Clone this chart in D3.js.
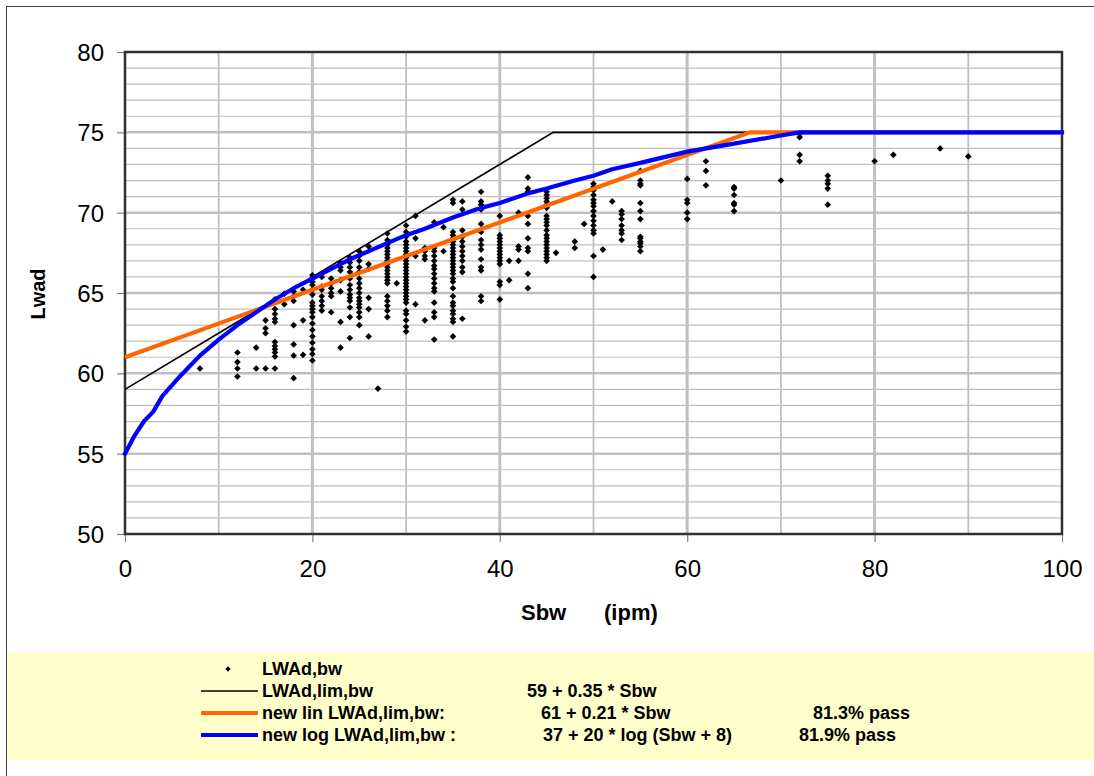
<!DOCTYPE html>
<html>
<head>
<meta charset="utf-8">
<script src="https://cdn.jsdelivr.net/npm/d3@7"></script>
<style>
  body { margin: 0; background: #fff; }
  svg { display: block; font-family: "Liberation Sans", Arial, sans-serif; }
</style>
</head>
<body>
<div id="chart"></div>
<script>
// ---- data ----
// measured Sbw values, one column of LWAd values per Sbw
var sbwCols = [8, 12, 14, 15, 16, 17, 18, 19, 20, 21, 22, 23, 24, 25, 26, 27, 28, 29, 30, 31,
  32, 33, 34, 35, 36, 38, 40, 41, 42, 43, 45, 46, 48, 49, 50, 51, 52, 53, 55, 60, 62, 65,
  70, 72, 75, 80, 82, 87, 90];
var lwadCols = [
  [60.3],
  [61.3, 60.7, 60.3, 59.8],
  [61.6, 60.3],
  [63.3, 62.8, 62.5, 60.3],
  [64.6, 64.0, 63.7, 63.4, 63.2, 61.95, 61.7, 61.5, 61.3, 61.05, 60.3],
  [64.95, 64.3],
  [65.1, 64.8, 64.5, 63.0, 61.8, 61.1, 59.7],
  [65.2, 63.3, 61.15],
  [66.1, 65.9, 65.7, 65.5, 65.2, 64.9, 64.4, 64.2, 64.0, 63.8, 63.5, 63.1, 62.7, 62.3, 61.9, 61.5, 61.2, 60.8],
  [66.0, 65.4, 65.2, 64.8, 64.5, 64.2, 63.9],
  [65.9, 65.6, 65.3, 65.0, 64.8, 63.8],
  [66.9, 66.6, 66.4, 65.8, 65.1, 63.2, 61.6],
  [67.2, 66.9, 66.6, 66.3, 65.9, 65.5, 65.2, 64.9, 64.7, 64.5, 64.1, 63.5, 62.2],
  [67.6, 67.3, 67.0, 66.6, 66.3, 65.9, 65.6, 65.3, 65.0, 64.7, 64.5, 64.3, 64.1, 63.8, 63.5, 63.0],
  [67.9, 66.8, 66.5, 64.7, 64.0, 62.3],
  [59.05],
  [68.7, 68.3, 68.0, 67.8, 67.6, 67.4, 67.2, 67.0, 66.8, 66.6, 66.4, 66.2, 66.0, 65.8, 65.6, 64.8, 64.5, 64.2, 63.9, 63.5],
  [65.6],
  [69.2, 68.8, 68.5, 68.2, 68.0, 67.8, 67.6, 67.4, 67.2, 67.0, 66.8, 66.6, 66.4, 66.2, 66.0, 65.8, 65.6, 65.4, 65.2, 65.0, 64.8, 64.6, 64.4, 63.9, 63.7, 63.3, 62.9, 62.6],
  [69.8, 68.4, 67.3, 64.3],
  [67.8, 67.6, 67.3, 67.1, 63.3],
  [69.4, 67.8, 67.6, 67.3, 67.0, 66.7, 66.5, 66.2, 65.9, 65.6, 65.3, 65.1, 64.4, 63.8, 63.5, 62.1],
  [69.1, 67.6],
  [70.8, 70.6, 68.8, 68.6, 68.4, 68.2, 68.0, 67.8, 67.6, 67.4, 67.2, 67.0, 66.8, 66.6, 66.4, 66.2, 65.9, 65.7, 65.3, 64.8, 64.4, 64.2, 63.9, 63.7, 63.4, 63.2, 62.3],
  [70.7, 70.2, 68.9, 68.5, 68.2, 67.9, 67.6, 67.3, 67.0, 66.6, 66.3, 63.4],
  [71.3, 70.7, 70.5, 70.2, 69.3, 68.8, 68.3, 68.0, 67.7, 67.1, 66.6, 66.4, 64.8, 64.5],
  [69.8, 68.6, 68.4, 68.2, 68.0, 67.8, 67.6, 67.4, 67.2, 67.0, 66.8, 65.7, 65.5, 64.6],
  [67.0, 65.8],
  [70.0, 67.9, 67.7, 67.0],
  [72.2, 71.5, 71.3, 69.8, 69.3, 68.4, 67.8, 67.6, 66.2, 65.3],
  [71.3, 71.1, 70.9, 70.7, 70.5, 70.3, 69.8, 69.6, 69.4, 69.2, 68.9, 68.6, 68.4, 68.2, 68.0, 67.8, 67.6, 67.4, 67.2, 67.0],
  [67.5],
  [68.2, 67.8],
  [69.3],
  [71.8, 71.6, 71.4, 71.1, 70.8, 70.6, 70.4, 70.1, 69.8, 69.5, 69.2, 68.9, 68.7, 67.3, 66.0],
  [67.7],
  [70.7],
  [70.1, 69.9, 69.6, 69.2, 68.9, 68.7, 68.3],
  [72.6, 72.0, 71.8, 71.7, 70.6, 70.1, 69.6, 68.5, 68.4, 68.2, 68.1, 67.9, 67.6],
  [72.1, 70.8, 70.6, 70.0, 69.6],
  [73.2, 72.6, 71.7],
  [71.6, 71.5, 71.1, 70.6, 70.5, 70.1],
  [72.0],
  [74.9, 74.7, 73.6, 73.2],
  [72.3, 72.0, 71.8, 71.5, 70.5],
  [73.2],
  [73.6],
  [74.0],
  [73.5]
];

// limit lines (vertices)
var limS = [0, 45.7, 100];
var limL = [59, 75, 75];
var linS = [0, 66.7, 100];
var linL = [61, 75, 75];
var logS = [0, 1, 2, 3, 3.5, 4, 6, 8, 10, 12, 14, 16, 18, 20, 22, 24, 26, 28, 30, 32, 35, 38, 40, 43, 45, 48, 50, 52, 55, 60, 65, 70, 72, 100];
var logL = [55.0, 56.1, 57.0, 57.6, 58.1, 58.6, 59.9, 61.1, 62.1, 63.0, 63.8, 64.6, 65.3, 65.9, 66.5, 67.1, 67.6, 68.1, 68.6, 69.0, 69.7, 70.3, 70.6, 71.2, 71.5, 72.0, 72.3, 72.7, 73.1, 73.8, 74.3, 74.8, 75.0, 75.0];

var xTicks = [0, 20, 40, 60, 80, 100];
var yTicks = [50, 55, 60, 65, 70, 75, 80];

var legendRows = [
  { kind: "dot",  label: "LWAd,bw", formula: "", pass: "" },
  { kind: "lim",  label: "LWAd,lim,bw", formula: "59 + 0.35 * Sbw", pass: "" },
  { kind: "lin",  label: "new lin LWAd,lim,bw:", formula: "61 + 0.21 * Sbw", pass: "81.3% pass" },
  { kind: "log",  label: "new log LWAd,lim,bw :", formula: "37 + 20 * log (Sbw + 8)", pass: "81.9% pass" }
];

// ---- drawing ----
var W = 1094, H = 776;
var L = 125, R = 1062, T = 52, B = 534;

var svg = d3.select("#chart").append("svg").attr("width", W).attr("height", H);

// outer chart frame
svg.append("rect").attr("x", 6.5).attr("y", 6.5).attr("width", W + 10).attr("height", H + 10)
  .attr("fill", "#fff").attr("stroke", "#404040").attr("stroke-width", 1);

var x = d3.scaleLinear().domain([0, 100]).range([L, R]);
var y = d3.scaleLinear().domain([50, 80]).range([B, T]);

// grid
var g = svg.append("g");
d3.range(51, 80).forEach(function(v) {
  g.append("line").attr("x1", L).attr("x2", R).attr("y1", y(v)).attr("y2", y(v))
    .attr("stroke", "#c0c0c0").attr("stroke-width", v % 5 === 0 ? 2.5 : 1.2);
});
d3.range(10, 100, 10).forEach(function(v) {
  g.append("line").attr("y1", T).attr("y2", B).attr("x1", x(v)).attr("x2", x(v))
    .attr("stroke", "#c0c0c0").attr("stroke-width", v % 20 === 0 ? 3 : 1.8);
});

// axes
var yAxis = d3.axisLeft(y).tickValues(yTicks).tickSize(8).tickPadding(13);
var xAxis = d3.axisBottom(x).tickValues(xTicks).tickSize(8).tickPadding(18);
var ya = svg.append("g").attr("transform", "translate(" + L + ",0)").call(yAxis);
var xa = svg.append("g").attr("transform", "translate(0," + B + ")").call(xAxis);
[ya, xa].forEach(function(a) {
  a.select(".domain").remove();
  a.selectAll(".tick line").attr("stroke", "#808080").attr("stroke-width", 1.2);
  a.selectAll(".tick text").attr("fill", "#000").style("font-size", "24px")
    .style("font-family", "'Liberation Sans', Arial, sans-serif");
});
ya.selectAll(".tick text").attr("dy", "0.36em");

// plot border
svg.append("rect").attr("x", L).attr("y", T).attr("width", R - L).attr("height", B - T)
  .attr("fill", "none").attr("stroke", "#303030").attr("stroke-width", 2.5);

// scatter points
var diamond = {
  draw: function(ctx, size) {
    var r = Math.sqrt(size / 2);
    ctx.moveTo(0, -r); ctx.lineTo(r, 0); ctx.lineTo(0, r); ctx.lineTo(-r, 0); ctx.closePath();
  }
};
var pts = [];
sbwCols.forEach(function(s, i) {
  lwadCols[i].forEach(function(v) { pts.push([s, v]); });
});
svg.append("g").selectAll("path").data(pts).enter().append("path")
  .attr("transform", function(d) { return "translate(" + x(d[0]) + "," + y(d[1]) + ")"; })
  .attr("d", d3.symbol().type(diamond).size(22))
  .attr("fill", "#000");

// lines
var line = d3.line().x(function(d) { return x(d[0]); }).y(function(d) { return y(d[1]); });
function zip(a, b) { return a.map(function(v, i) { return [v, b[i]]; }); }
svg.append("path").datum(zip(limS, limL)).attr("d", line)
  .attr("fill", "none").attr("stroke", "#000").attr("stroke-width", 1.6);
svg.append("path").datum(zip(linS, linL)).attr("d", line)
  .attr("fill", "none").attr("stroke", "#ff6600").attr("stroke-width", 4.2);
svg.append("path").datum(zip(logS, logL)).attr("d", line)
  .attr("fill", "none").attr("stroke", "#0000ff").attr("stroke-width", 4.2)
  .attr("stroke-linecap", "square").attr("stroke-linejoin", "round");

// axis titles
svg.append("text").attr("transform", "translate(45,294) rotate(-90)")
  .attr("text-anchor", "middle").style("font-size", "20px").style("font-weight", "bold")
  .text("Lwad");
svg.append("text").attr("x", 521).attr("y", 620)
  .style("font-size", "22px").style("font-weight", "bold").text("Sbw");
svg.append("text").attr("x", 604).attr("y", 620)
  .style("font-size", "22px").style("font-weight", "bold").text("(ipm)");

// legend
var lg = svg.append("g");
lg.append("rect").attr("x", 7).attr("y", 652).attr("width", W).attr("height", 108).attr("fill", "#ffffcc");
var rowY = [669, 691, 713, 735];
var formX = [0, 527, 541, 543];
var passX = [0, 0, 813, 799];
legendRows.forEach(function(r, i) {
  var yy = rowY[i];
  if (r.kind === "dot") {
    lg.append("path").attr("transform", "translate(228," + yy + ")")
      .attr("d", d3.symbol().type(diamond).size(14)).attr("fill", "#000");
  } else {
    var col = r.kind === "lim" ? "#000" : (r.kind === "lin" ? "#ff6600" : "#0000ff");
    lg.append("line").attr("x1", 201).attr("x2", 258).attr("y1", yy).attr("y2", yy)
      .attr("stroke", col).attr("stroke-width", r.kind === "lim" ? 1.6 : 4.2);
  }
  var t = function(xx, s) {
    lg.append("text").attr("x", xx).attr("y", yy + 6).style("font-size", "18px")
      .style("font-weight", "bold").text(s);
  };
  t(262, r.label);
  if (r.formula) t(formX[i], r.formula);
  if (r.pass) t(passX[i], r.pass);
});
</script>
</body>
</html>
